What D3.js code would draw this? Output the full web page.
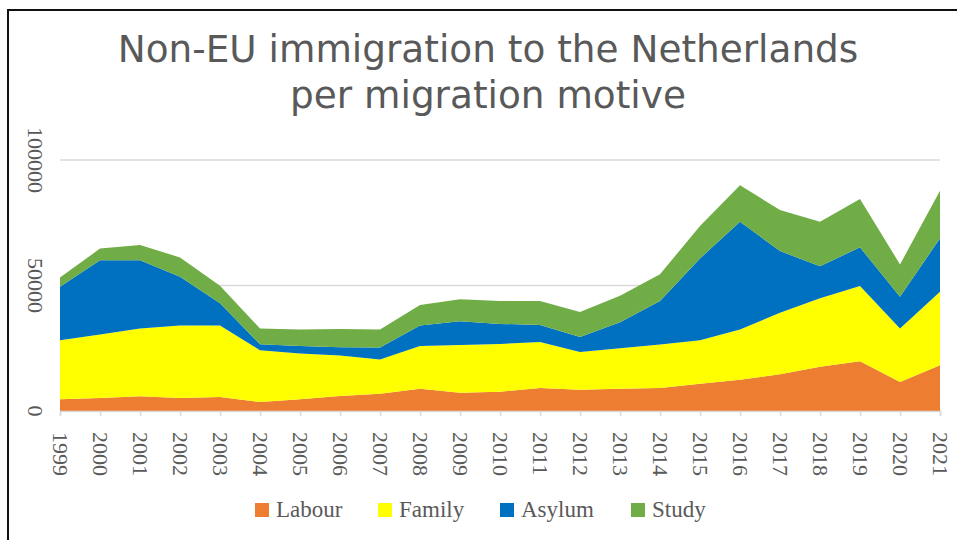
<!DOCTYPE html>
<html>
<head>
<meta charset="utf-8">
<script src="https://cdn.jsdelivr.net/npm/d3@7"></script>
<style>
  body {margin: 0; background: #fff;}
  svg {display: block;}
</style>
</head>
<body>
<svg id="chart" width="957" height="540"></svg>
<script>
var years = d3.range(1999, 2022)
var labour = [4700, 5200, 5900, 5200, 5600, 3600, 4700, 6000, 6900, 8900, 7300, 7700, 9200, 8500, 8900, 9200, 10900, 12500, 14600, 17600, 19800, 11600, 18200]
var family = [23500, 25300, 27000, 28900, 28500, 20600, 18200, 16100, 13600, 17000, 19000, 19000, 18300, 15000, 16100, 17300, 17300, 20000, 24500, 27300, 30000, 21300, 29300]
var asylum = [21300, 29600, 27200, 19400, 8800, 2400, 3000, 3300, 4800, 8200, 9500, 8000, 6800, 6000, 10400, 17300, 32600, 42900, 24600, 12800, 15400, 12600, 21300]
var study = [3700, 4600, 6000, 7700, 7000, 6300, 6600, 7300, 7200, 8100, 8700, 9100, 9500, 9900, 10500, 10700, 12900, 14500, 16400, 17700, 19300, 12900, 18900]
var yTicks = [0, 50000, 100000]
var motives = ['Labour', 'Family', 'Asylum', 'Study']
var colors = {Labour: '#ED7D31', Family: '#FFFF00', Asylum: '#0070C0', Study: '#70AD47'}

var serif = '"Liberation Serif"'
var rows = years.map((y, i) => ({year: y, Labour: labour[i], Family: family[i], Asylum: asylum[i], Study: study[i]}))

var svg = d3.select('#chart')
var x = d3.scaleLinear().domain([1999, 2021]).range([60, 940])
var y = d3.scaleLinear().domain([0, 100000]).range([411, 160])

// frame
svg.append('path')
  .attr('d', 'M 8 545 V 10 H 962')
  .attr('fill', 'none').attr('stroke', '#111').attr('stroke-width', 2)

// title
svg.append('text')
  .attr('text-anchor', 'middle')
  .style('font-family', '"DejaVu Sans"')
  .style('font-size', '37.4px').attr('fill', '#595959')
  .selectAll('tspan').data(['Non-EU immigration to the Netherlands', 'per migration motive'])
  .join('tspan')
  .attr('x', 488).attr('y', (d, i) => 62 + i * 46)
  .text(d => d)

// grid
svg.append('g').selectAll('line').data(yTicks.slice(1)).join('line')
  .attr('x1', x(1999)).attr('x2', x(2021))
  .attr('y1', d => y(d)).attr('y2', d => y(d))
  .attr('stroke', '#d9d9d9').attr('stroke-width', 1.3)

var stack = d3.stack().keys(motives)(rows)
var area = d3.area()
  .x(d => x(d.data.year))
  .y0(d => y(d[0]))
  .y1(d => y(d[1]))

svg.append('g').selectAll('path').data(stack).join('path')
  .attr('d', area)
  .attr('fill', d => colors[d.key])

// x axis
var xAxis = svg.append('g').attr('transform', 'translate(0,' + y(0) + ')')
  .call(d3.axisBottom(x).tickValues(years).tickSize(5).tickFormat(d3.format('d')))
xAxis.select('.domain').attr('stroke', '#d9d9d9').attr('stroke-width', 1.5)
xAxis.selectAll('.tick line').attr('stroke', '#d9d9d9').attr('stroke-width', 1.5)
xAxis.selectAll('.tick text')
  .style('font-family', serif).style('font-size', '22px')
  .attr('fill', '#595959')
  .attr('text-anchor', 'start').attr('dy', '0.32em')
  .attr('transform', 'translate(0,21) rotate(90)')
  .attr('x', 0).attr('y', 0)

// y labels
svg.append('g').selectAll('text').data(yTicks).join('text')
  .attr('transform', d => 'translate(35,' + y(d) + ') rotate(90)')
  .attr('text-anchor', 'middle').attr('dy', '0.32em')
  .style('font-family', serif).style('font-size', '22px')
  .attr('fill', '#595959')
  .text(d => d)

// legend
var legendX = [255, 378, 500, 631]
var lg = svg.append('g').selectAll('g').data(motives).join('g')
  .attr('transform', (d, i) => 'translate(' + legendX[i] + ',503)')
lg.append('rect').attr('width', 14).attr('height', 14).attr('fill', d => colors[d])
lg.append('text').attr('x', 21).attr('y', 14)
  .style('font-family', serif).style('font-size', '23px')
  .attr('fill', '#595959')
  .text(d => d)
</script>
</body>
</html>
